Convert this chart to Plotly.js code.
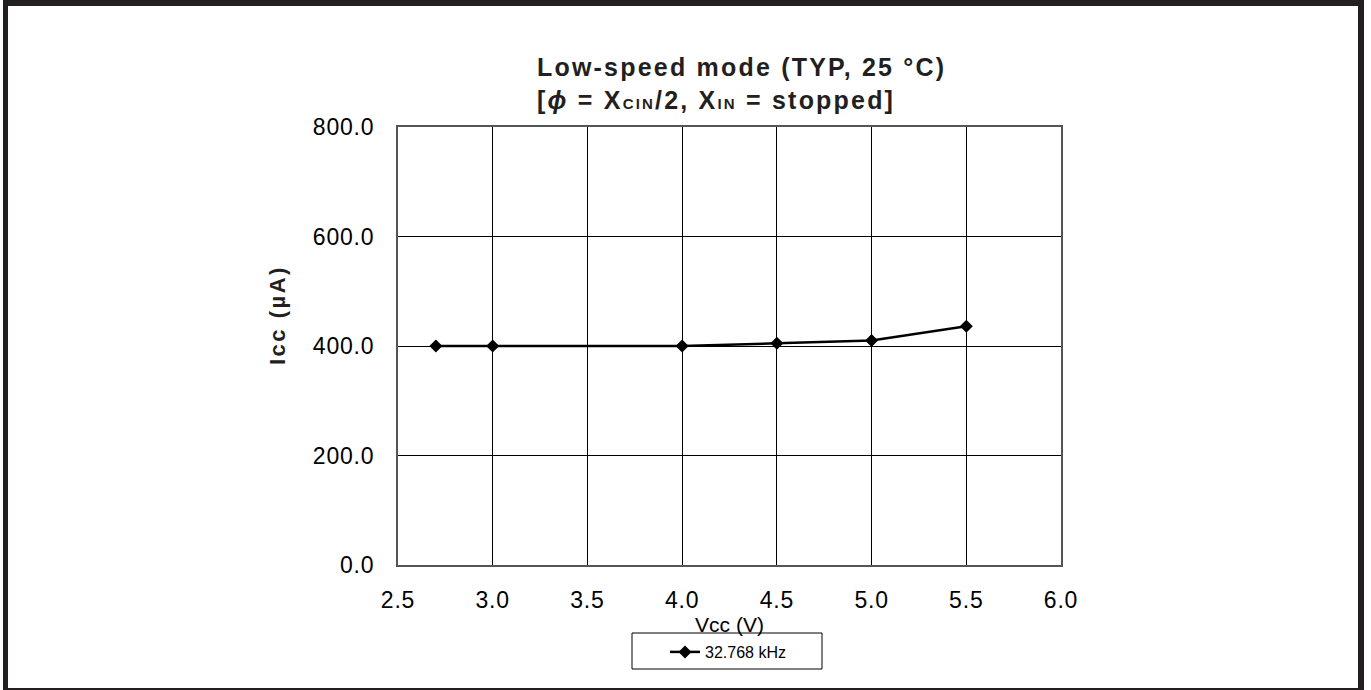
<!DOCTYPE html>
<html>
<head>
<meta charset="utf-8">
<script src="https://cdn.plot.ly/plotly-3.0.1.min.js"></script>
<style>
html,body{margin:0;padding:0;background:#fff;}
#chart{position:absolute;left:0;top:0;width:1371px;height:690px;}
#frame{position:absolute;left:3px;top:0;width:1361px;height:690px;box-sizing:border-box;border-style:solid;border-color:#231f20;border-width:6px 6px 2px 5px;pointer-events:none;}
</style>
</head>
<body>
<div id="chart"></div>
<div id="frame"></div>
<script>
const vcc = [2.7, 3.0, 4.0, 4.5, 5.0, 5.5];
const icc = [400, 400, 400, 405, 410, 436];
const seriesName = "32.768 kHz";
const xTicks = [2.5, 3.0, 3.5, 4.0, 4.5, 5.0, 5.5, 6.0];
const yTicks = [0, 200, 400, 600, 800];

const F = "Arial, 'Liberation Sans', sans-serif";
const C = '#231f20';
const tk = v => '<span style="letter-spacing:0.8px">' + v.toFixed(1) + '</span>';
const trace = {
  x: vcc, y: icc, name: seriesName, type: 'scatter', mode: 'lines+markers',
  line: {color: '#000', width: 2.5},
  marker: {symbol: 'diamond', size: 10, color: '#000'}
};
const sp = 'letter-spacing:2.2px';
const layout = {
  width: 1371, height: 690,
  margin: {l: 398, r: 310, t: 127, b: 125},
  paper_bgcolor: '#fff', plot_bgcolor: '#fff',
  showlegend: true,
  title: {
    text: '<span style="' + sp + '"><b>Low-speed mode (TYP, 25 °C)</b></span><br>' +
          '<span style="' + sp + '"><b>[<i>ϕ</i> = X<span style="font-size:15px">CIN</span>/2, X<span style="font-size:15px">IN</span> = stopped]</b></span>',
    x: 537/1371, xanchor: 'left', y: 1 - 76/690, yanchor: 'top',
    font: {family: F, size: 25, color: C}
  },
  xaxis: {
    range: [2.5, 6.0], tickvals: xTicks, ticktext: xTicks.map(tk),
    showgrid: true, gridcolor: '#000', gridwidth: 1,
    showline: true, linecolor: '#555', linewidth: 2, mirror: true,
    ticks: '', zeroline: false, ticklabelstandoff: 13,
    tickfont: {family: F, size: 23, color: '#000'},
    title: {text: 'Vcc (V)', font: {family: F, size: 21, color: '#000'}, standoff: 0}
  },
  yaxis: {
    range: [0, 800], tickvals: yTicks, ticktext: yTicks.map(tk),
    showgrid: true, gridcolor: '#000', gridwidth: 1,
    showline: true, linecolor: '#555', linewidth: 2, mirror: true,
    ticks: '', zeroline: false, ticklabelstandoff: 17,
    tickfont: {family: F, size: 23, color: '#000'},
    title: {text: ''}
  },
  annotations: [{
    text: '<span style="letter-spacing:2.5px"><b>Icc (µA)</b></span>',
    xref: 'paper', yref: 'paper', x: (277-398)/663, y: (565-315)/438,
    xanchor: 'center', yanchor: 'middle', textangle: -90, showarrow: false,
    font: {family: F, size: 22, color: C}
  }],
  legend: {
    orientation: 'h', x: (665-398)/663, xanchor: 'left', y: -(635-565)/438, yanchor: 'top',
    borderwidth: 0, bgcolor: 'rgba(0,0,0,0)',
    font: {family: F, size: 16, color: '#000'}
  },
  shapes: [{
    type: 'rect', xref: 'paper', yref: 'paper',
    x0: (632-398)/663, x1: (822-398)/663, y0: -(669-565)/438, y1: -(633-565)/438,
    line: {color: '#000', width: 1}, fillcolor: 'rgba(0,0,0,0)', layer: 'below'
  }]
};
Plotly.newPlot('chart', [trace], layout, {displayModeBar: false, staticPlot: true});
</script>
</body>
</html>
